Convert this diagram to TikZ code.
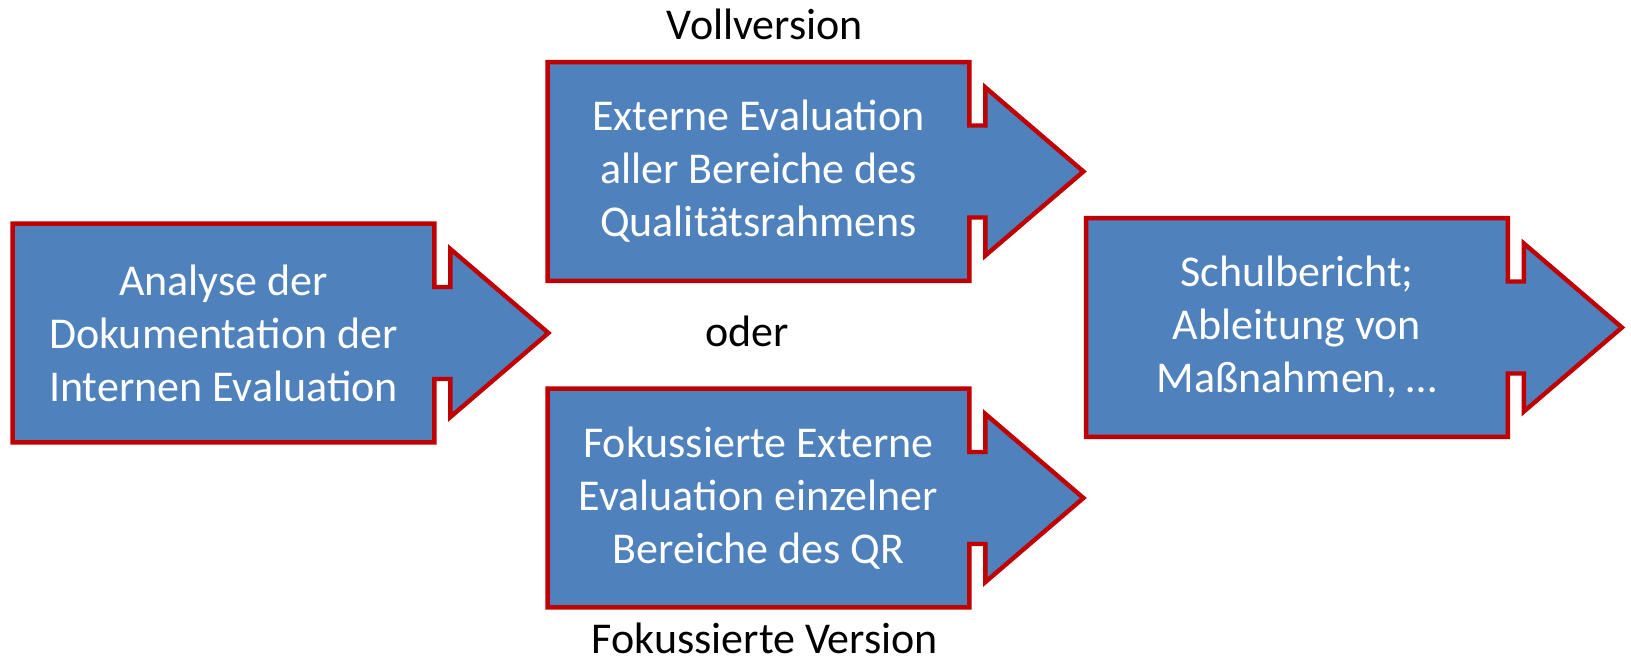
\documentclass[tikz,border=0pt]{standalone}
\usepackage{fontspec}
\setmainfont{Carlito}
\usetikzlibrary{calc,backgrounds}
\definecolor{boxblue}{HTML}{4F81BD}
\definecolor{boxred}{HTML}{C00000}
\tikzset{
  boxtext/.style={inner sep=0pt, minimum width=210.5pt, minimum height=109pt,
    align=center, text=white, font=\fontsize{22}{26.5}\selectfont},
  arrowshape/.style={fill=boxblue, draw=boxred, line width=2.2pt, line join=miter},
  label/.style={inner sep=0pt, anchor=base, font=\fontsize{22}{26.5}\selectfont, text=black}
}
\newcommand{\arrowpath}[1]{%
  \path[arrowshape] (#1.north west) -- (#1.north east) -- ($(#1.east)+(0,23pt)$)
    -- ++(8pt,0) -- ++(0,19pt) -- ($(#1.east)+(57pt,0)$) -- ($(#1.east)+(8pt,-42pt)$)
    -- ++(0,19pt) -- ($(#1.east)+(0,-23pt)$) -- (#1.south east) -- (#1.south west) -- cycle;}
\begin{document}
\begin{tikzpicture}[x=0.5pt,y=-0.5pt]
\useasboundingbox (0,0) rectangle (1631,662);
\node[boxtext] (a) at (223.5,333) {Analyse der\\Dokumentation der\\Internen Evaluation};
\node[boxtext] (b) at (758.5,171.5) {Externe Evaluation\\aller Bereiche des\\Qualitätsrahmens};
\node[boxtext] (c) at (758.5,498) {Fokussierte Externe\\Evaluation einzelner\\Bereiche des QR};
\node[boxtext] (d) at (1297,327.5) {Schulbericht;\\Ableitung von\\Maßnahmen, …};
\begin{scope}[on background layer]
\arrowpath{a}
\arrowpath{b}
\arrowpath{c}
\arrowpath{d}
\end{scope}
\node[label] (voll) at (765,40) {Vollversion};
\node[label] (oder) at (747,347) {oder};
\node[label] (fok) at (765,653) {Fokussierte Version};
\end{tikzpicture}
\end{document}
